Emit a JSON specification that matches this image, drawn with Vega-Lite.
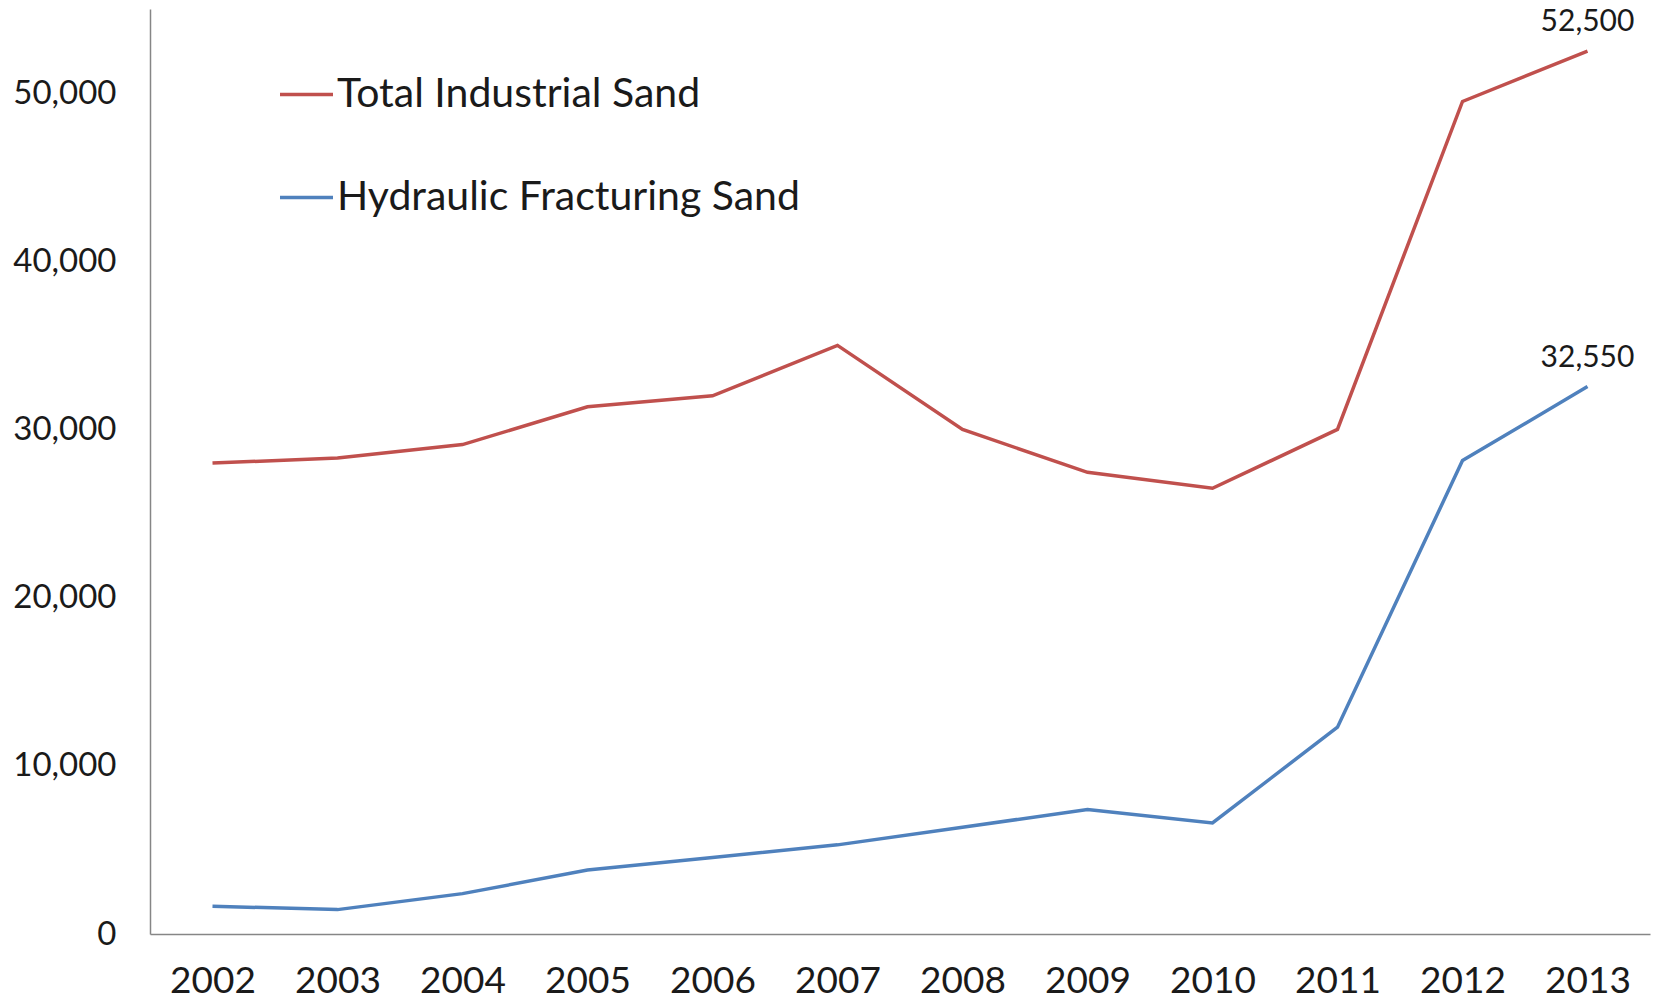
{
  "$schema": "https://vega.github.io/schema/vega-lite/v6.json",
  "width": 1500,
  "height": 925,
  "autosize": {"type": "none"},
  "padding": {"left": 150, "top": 9, "right": 8, "bottom": 70},
  "background": "white",
  "config": {"view": {"stroke": null}, "font": "Lato"},
  "data": {
    "values": [
      {"year": "2002", "series": "Total Industrial Sand", "value": 28000},
      {"year": "2003", "series": "Total Industrial Sand", "value": 28300},
      {"year": "2004", "series": "Total Industrial Sand", "value": 29100},
      {"year": "2005", "series": "Total Industrial Sand", "value": 31350},
      {"year": "2006", "series": "Total Industrial Sand", "value": 32000},
      {"year": "2007", "series": "Total Industrial Sand", "value": 35000},
      {"year": "2008", "series": "Total Industrial Sand", "value": 30000},
      {"year": "2009", "series": "Total Industrial Sand", "value": 27450},
      {"year": "2010", "series": "Total Industrial Sand", "value": 26500},
      {"year": "2011", "series": "Total Industrial Sand", "value": 30000},
      {"year": "2012", "series": "Total Industrial Sand", "value": 49500},
      {"year": "2013", "series": "Total Industrial Sand", "value": 52500, "label": "52,500"},
      {"year": "2002", "series": "Hydraulic Fracturing Sand", "value": 1650},
      {"year": "2003", "series": "Hydraulic Fracturing Sand", "value": 1450},
      {"year": "2004", "series": "Hydraulic Fracturing Sand", "value": 2400},
      {"year": "2005", "series": "Hydraulic Fracturing Sand", "value": 3800},
      {"year": "2006", "series": "Hydraulic Fracturing Sand", "value": 4550},
      {"year": "2007", "series": "Hydraulic Fracturing Sand", "value": 5300},
      {"year": "2008", "series": "Hydraulic Fracturing Sand", "value": 6350},
      {"year": "2009", "series": "Hydraulic Fracturing Sand", "value": 7400},
      {"year": "2010", "series": "Hydraulic Fracturing Sand", "value": 6600},
      {"year": "2011", "series": "Hydraulic Fracturing Sand", "value": 12300},
      {"year": "2012", "series": "Hydraulic Fracturing Sand", "value": 28150},
      {"year": "2013", "series": "Hydraulic Fracturing Sand", "value": 32550, "label": "32,550"}
    ]
  },
  "encoding": {
    "x": {
      "field": "year", "type": "ordinal",
      "scale": {"type": "point", "padding": 0.5},
      "axis": {
        "title": null, "labelAngle": 0, "ticks": false, "grid": false,
        "domainColor": "#868686", "domainWidth": 1.5,
        "labelFont": "Lato", "labelFontSize": 37, "labelColor": "#1a1a1a",
        "labelPadding": 29
      }
    },
    "y": {
      "field": "value", "type": "quantitative",
      "scale": {"domain": [0, 55000], "nice": false},
      "axis": {
        "title": null, "values": [0, 10000, 20000, 30000, 40000, 50000],
        "format": ",.0f", "ticks": false, "grid": false,
        "domainColor": "#868686", "domainWidth": 1.5,
        "labelFont": "Lato", "labelFontSize": 33, "labelColor": "#1a1a1a",
        "labelPadding": 34
      }
    }
  },
  "layer": [
    {
      "mark": {"type": "line", "strokeWidth": 3.5},
      "encoding": {
        "color": {
          "field": "series", "type": "nominal",
          "scale": {"domain": ["Total Industrial Sand", "Hydraulic Fracturing Sand"], "range": ["#C0504D", "#4F81BD"]},
          "legend": {
            "title": null, "orient": "none", "legendX": 128, "legendY": 57,
            "padding": 0, "symbolType": "stroke", "symbolSize": 2809, "symbolStrokeWidth": 3.5,
            "labelFont": "Lato", "labelFontSize": 41, "labelColor": "#1a1a1a",
            "labelOffset": 2, "rowPadding": 54, "labelLimit": 800
          }
        }
      }
    },
    {
      "transform": [{"filter": "datum.label != null"}],
      "mark": {"type": "text", "dy": -29, "font": "Lato", "fontSize": 30, "color": "#1a1a1a"},
      "encoding": {"text": {"field": "label"}}
    }
  ]
}
